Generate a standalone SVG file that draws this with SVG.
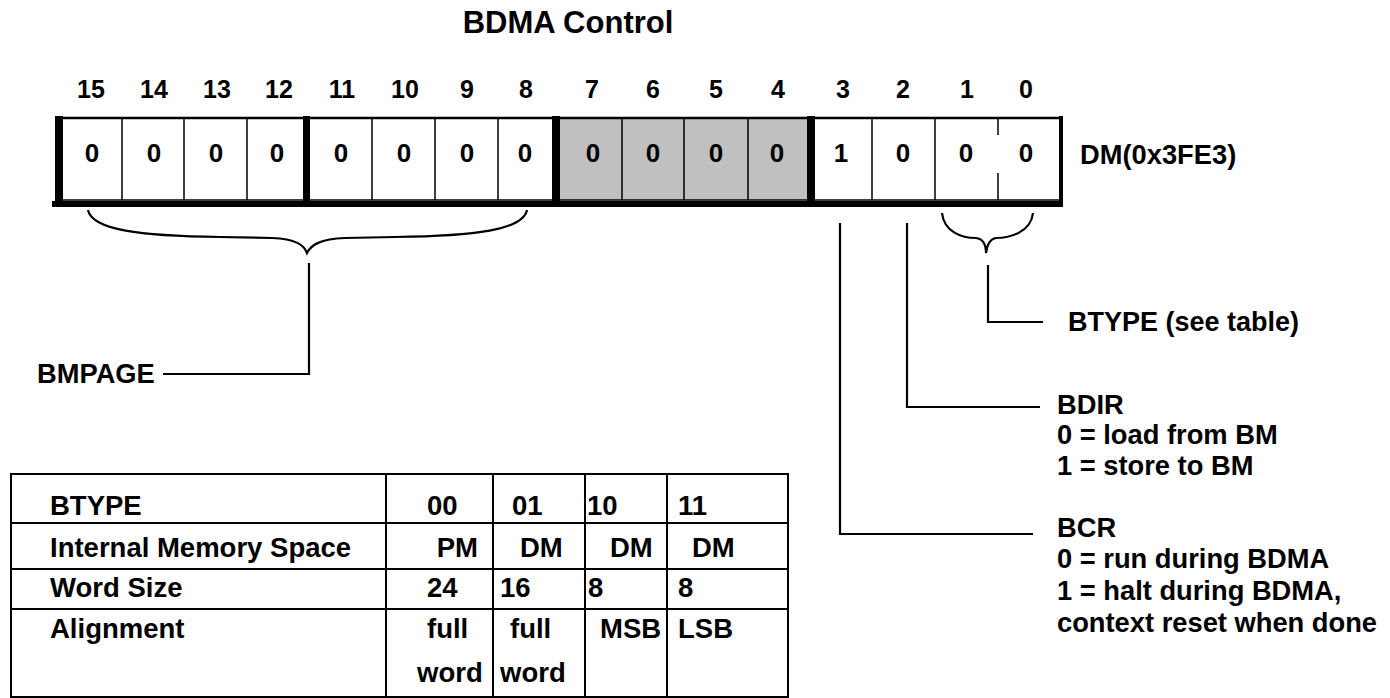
<svg xmlns="http://www.w3.org/2000/svg" width="1390" height="698" viewBox="0 0 1390 698">
<style>
text{font-family:"Liberation Sans",Arial,sans-serif;font-weight:bold;fill:#000}
.title{font-size:31px;text-anchor:middle}
.bit{font-size:25px;text-anchor:middle}
.val{font-size:26px;text-anchor:middle}
.lbl{font-size:27.3px}
.tbl{font-size:27.5px}
.thin{stroke:#000;stroke-width:1.5;fill:none}
.conn{stroke:#000;stroke-width:2.2;fill:none}
.tl{stroke:#000;stroke-width:2;fill:none}
</style>
<rect width="1390" height="698" fill="#fff"/>
<text class="title" x="568" y="33">BDMA Control</text>
<g id="bit-numbers">
<text class="bit" x="91" y="98">15</text>
<text class="bit" x="154" y="98">14</text>
<text class="bit" x="217" y="98">13</text>
<text class="bit" x="279" y="98">12</text>
<text class="bit" x="342" y="98">11</text>
<text class="bit" x="405" y="98">10</text>
<text class="bit" x="467" y="98">9</text>
<text class="bit" x="526" y="98">8</text>
<text class="bit" x="592" y="98">7</text>
<text class="bit" x="653" y="98">6</text>
<text class="bit" x="716" y="98">5</text>
<text class="bit" x="778" y="98">4</text>
<text class="bit" x="843" y="98">3</text>
<text class="bit" x="903" y="98">2</text>
<text class="bit" x="967" y="98">1</text>
<text class="bit" x="1026" y="98">0</text>
</g>
<g id="register">
<rect x="560" y="118" width="247" height="82" fill="#c0c0c0"/>
<line class="thin" x1="55" y1="118" x2="1062" y2="118" style="stroke-width:2.5"/>
<line class="thin" x1="59" y1="200" x2="1061" y2="200"/>
<rect x="52" y="201" width="1011" height="6" fill="#000"/>
<rect x="55" y="116" width="8" height="91" fill="#000"/>
<rect x="303" y="116" width="7" height="91" fill="#000"/>
<rect x="552" y="116" width="8" height="91" fill="#000"/>
<rect x="807" y="116" width="8" height="91" fill="#000"/>
<rect x="1059" y="116" width="4" height="91" fill="#000"/>
<path class="thin" d="M122,118V200M184,118V200M247,118V200M372,118V200M435,118V200M498,118V200M622,118V200M684,118V200M748,118V200M872,118V200M935,118V200M998,118V135M998,173V200"/>
<text class="val" x="92" y="162">0</text>
<text class="val" x="154" y="162">0</text>
<text class="val" x="216" y="162">0</text>
<text class="val" x="277" y="162">0</text>
<text class="val" x="341" y="162">0</text>
<text class="val" x="404" y="162">0</text>
<text class="val" x="467" y="162">0</text>
<text class="val" x="525" y="162">0</text>
<text class="val" x="593" y="162">0</text>
<text class="val" x="653" y="162">0</text>
<text class="val" x="716" y="162">0</text>
<text class="val" x="777" y="162">0</text>
<text class="val" x="841" y="162">1</text>
<text class="val" x="903" y="162">0</text>
<text class="val" x="966" y="162">0</text>
<text class="val" x="1026" y="162">0</text>
</g>
<g id="dm-address"><text class="lbl" x="1080" y="164">DM(0x3FE3)</text></g>
<g id="connectors">
<path class="conn" d="M88,210 C92,230 140,236 220,237 L272,238 C296,239 304,245 307,253 C311,245 320,239 345,238 L395,237 C475,236 523,230 527,210"/>
<path class="conn" d="M309,263V374H163"/>
<path class="conn" d="M942,213 C944,232 962,238 976,238 C983,239 986,245 986,253 C987,245 990,239 996,238 C1010,238 1031,232 1033,213"/>
<path class="conn" d="M988,265V322H1043"/>
<path class="conn" d="M907,223V407H1040"/>
<path class="conn" d="M840,223V534H1033"/>
</g>
<g id="bmpage"><text class="lbl" x="37" y="383">BMPAGE</text></g>
<g id="btype"><text class="lbl" x="1068" y="331" style="font-size:27px">BTYPE (see table)</text></g>
<g id="bdir">
<text class="lbl" x="1057" y="414">BDIR</text>
<text class="lbl" x="1057" y="444">0 = load from BM</text>
<text class="lbl" x="1057" y="475">1 = store to BM</text>
</g>
<g id="bcr">
<text class="lbl" x="1057" y="537">BCR</text>
<text class="lbl" x="1057" y="568">0 = run during BDMA</text>
<text class="lbl" x="1057" y="600">1 = halt during BDMA,</text>
<text class="lbl" x="1057" y="632">context reset when done</text>
</g>
<g id="btype-table">
<rect class="tl" x="11" y="474" width="777" height="223"/>
<path class="tl" d="M11,523H788M11,569H788M11,609H788M386,474V697M493,474V697M585,474V697M667,474V697"/>
<text class="tbl" x="50" y="515">BTYPE</text>
<text class="tbl" x="427" y="515">00</text>
<text class="tbl" x="512" y="515">01</text>
<text class="tbl" x="587" y="515">10</text>
<text class="tbl" x="678" y="515">11</text>
<text class="tbl" x="50" y="557">Internal Memory Space</text>
<text class="tbl" x="478" y="557" text-anchor="end">PM</text>
<text class="tbl" x="520" y="557">DM</text>
<text class="tbl" x="610" y="557">DM</text>
<text class="tbl" x="692" y="557">DM</text>
<text class="tbl" x="50" y="597">Word Size</text>
<text class="tbl" x="427" y="597">24</text>
<text class="tbl" x="500" y="597">16</text>
<text class="tbl" x="588" y="597">8</text>
<text class="tbl" x="678" y="597">8</text>
<text class="tbl" x="50" y="638">Alignment</text>
<text class="tbl" x="427" y="638">full</text>
<text class="tbl" x="510" y="638">full</text>
<text class="tbl" x="600" y="638">MSB</text>
<text class="tbl" x="678" y="638">LSB</text>
<text class="tbl" x="417" y="682">word</text>
<text class="tbl" x="500" y="682">word</text>
</g>
</svg>
